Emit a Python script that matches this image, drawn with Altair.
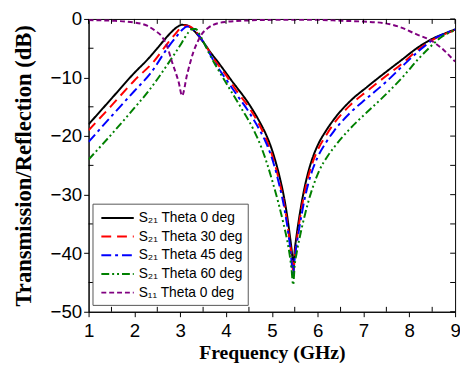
import altair as alt
import pandas as pd

# ---- data ----
s21_t0_x = [1.0, 1.5, 2.0, 2.29, 2.5, 2.64, 2.8, 2.93, 3.04, 3.15, 3.3, 3.47, 3.68, 3.79, 4.11, 4.54, 4.75, 4.86, 4.97,
            5.08, 5.18, 5.27, 5.33, 5.39, 5.44, 5.47, 5.5, 5.54, 5.58, 5.61, 5.66, 5.72, 5.8, 5.9, 6.0, 6.19, 6.36, 6.7,
            7.08, 7.5, 7.8, 8.22, 8.5, 8.8, 9.0]
s21_t0_y = [-18.0, -13.6, -9.2, -6.9, -5.0, -3.7, -2.3, -1.4, -1.0, -1.1, -2.0, -3.6, -5.9, -7.0, -10.4, -15.0, -17.8, -19.5, -21.6,
            -24.3, -27.3, -30.6, -33.4, -36.8, -40.0, -42.5, -39.5, -37.0, -34.8, -33.3, -31.0, -28.6, -26.0, -23.5, -21.6, -19.0, -17.1, -14.1,
            -11.6, -9.0, -7.2, -4.7, -3.4, -2.4, -1.8]

s21_t30_x = [1.0, 1.5, 2.0, 2.43, 2.72, 2.9, 3.0, 3.11, 3.22, 3.35, 3.47, 3.75, 4.0, 4.25, 4.5, 4.75, 4.86, 4.97,
             5.08, 5.18, 5.27, 5.33, 5.39, 5.44, 5.47, 5.5, 5.54, 5.58, 5.61, 5.66, 5.72, 5.8, 5.9, 6.0, 6.19, 6.36, 6.7,
             7.08, 7.5, 7.8, 8.22, 8.55, 8.8, 9.0]
s21_t30_y = [-19.0, -14.8, -10.5, -7.2, -4.2, -2.5, -1.6, -1.1, -1.3, -2.2, -3.5, -7.0, -9.6, -12.5, -15.1, -18.4, -20.2, -22.4,
             -25.2, -28.3, -31.6, -34.4, -37.9, -41.0, -43.5, -40.5, -38.0, -35.8, -34.2, -31.9, -29.4, -26.8, -24.3, -22.4, -19.8, -17.8, -14.8,
             -12.3, -9.7, -7.9, -5.1, -3.4, -2.5, -1.9]

s21_t45_x = [1.0, 1.5, 2.0, 2.36, 2.72, 2.93, 3.05, 3.15, 3.25, 3.35, 3.47, 3.75, 4.0, 4.25, 4.5, 4.75, 4.86, 4.97,
             5.08, 5.18, 5.27, 5.33, 5.39, 5.43, 5.46, 5.49, 5.54, 5.58, 5.61, 5.66, 5.72, 5.8, 5.9, 6.0, 6.19, 6.36, 6.7,
             7.08, 7.5, 7.87, 8.22, 8.58, 8.8, 9.0]
s21_t45_y = [-21.0, -16.6, -12.3, -9.2, -5.0, -2.9, -1.8, -1.3, -1.5, -2.3, -3.5, -7.4, -10.3, -13.1, -15.9, -19.2, -20.9, -23.0,
             -25.8, -28.9, -32.2, -35.0, -38.4, -41.3, -44.0, -41.5, -38.6, -36.6, -35.2, -33.0, -30.6, -28.0, -25.5, -23.6, -21.0, -19.1, -16.1,
             -13.5, -10.7, -7.9, -5.4, -3.2, -2.4, -1.8]

s21_t60_x = [1.0, 1.5, 2.0, 2.29, 2.5, 2.72, 2.9, 3.0, 3.1, 3.18, 3.27, 3.34, 3.42, 3.5, 3.68, 4.0, 4.33, 4.6, 4.76, 4.9,
             5.03, 5.15, 5.25, 5.33, 5.39, 5.43, 5.465, 5.5, 5.54, 5.6, 5.65, 5.72, 5.79, 5.9, 6.04, 6.22, 6.36, 6.7,
             7.08, 7.5, 7.87, 8.19, 8.44, 8.68, 8.94, 9.0]
s21_t60_y = [-24.0, -19.7, -15.2, -12.5, -10.3, -7.8, -5.7, -4.5, -3.2, -2.3, -1.7, -1.7, -2.6, -3.8, -6.6, -10.9, -15.2, -18.9, -21.7, -24.8,
             -28.2, -31.6, -34.8, -37.6, -40.3, -42.7, -45.4, -42.0, -40.0, -37.6, -35.8, -33.5, -31.4, -28.6, -25.8, -23.4, -21.9, -18.8,
             -15.9, -12.8, -9.8, -6.9, -4.9, -3.2, -2.1, -1.9]

s11_t0_x = [1.0, 1.5, 2.0, 2.29, 2.45, 2.61, 2.72, 2.82, 2.97, 3.04, 3.15, 3.29, 3.38, 3.47, 3.6, 3.72, 4.0, 4.5, 5.0, 5.5,
            6.0, 6.5, 7.0, 7.44, 7.8, 8.15, 8.5, 8.75, 9.0]
s11_t0_y = [-0.2, -0.3, -0.6, -1.2, -2.0, -3.1, -4.8, -7.3, -10.9, -13.1, -9.5, -5.6, -3.9, -2.6, -1.6, -1.0, -0.5, -0.25, -0.15, -0.12,
            -0.15, -0.3, -0.45, -0.7, -1.4, -2.6, -3.8, -5.3, -7.3]

series_names = ["S₂₁ Theta 0 deg", "S₂₁ Theta 30 deg", "S₂₁ Theta 45 deg", "S₂₁ Theta 60 deg", "S₁₁ Theta 0 deg"]
series_colors = ["#000000", "#ff0000", "#0000ff", "#008000", "#800080"]
series_dashes = [[1, 0], [10, 6], [10, 4, 3, 4], [8, 3, 2, 3, 2, 3], [5, 3]]

x_major = [1, 2, 3, 4, 5, 6, 7, 8, 9]
x_minor = [1.5, 2.5, 3.5, 4.5, 5.5, 6.5, 7.5, 8.5]
y_major = [0, -10, -20, -30, -40, -50]
y_minor = [-5, -15, -25, -35, -45]

W, H = 373, 298

rows = []
for name, xs, ys in zip(series_names,
                        [s21_t0_x, s21_t30_x, s21_t45_x, s21_t60_x, s11_t0_x],
                        [s21_t0_y, s21_t30_y, s21_t45_y, s21_t60_y, s11_t0_y]):
    for i, (xv, yv) in enumerate(zip(xs, ys)):
        rows.append({"series": name, "f": xv, "db": yv, "i": i})
df = pd.DataFrame(rows)

xscale = alt.Scale(domain=[1, 9], nice=False, zero=False)
yscale = alt.Scale(domain=[-50, 0], nice=False, zero=False)
x_title = "Frequency (GHz)"
y_title = "Transmission/Reflection (dB)"
x_axis = alt.Axis(values=x_major, tickSize=5, labelPadding=5, titlePadding=3, format="d", labelFlush=False)
y_axis = alt.Axis(values=y_major, tickSize=5, labelPadding=2, titlePadding=15, format="d", titleFontSize=23,
                  labelFlush=False)

lines = alt.Chart(df).mark_line(strokeWidth=2, interpolate="monotone", clip=True).encode(
    x=alt.X("f:Q", scale=xscale, title=x_title, axis=x_axis),
    y=alt.Y("db:Q", scale=yscale, title=y_title, axis=y_axis),
    color=alt.Color("series:N", scale=alt.Scale(domain=series_names, range=series_colors), title=None),
    strokeDash=alt.StrokeDash("series:N", scale=alt.Scale(domain=series_names, range=series_dashes), title=None),
    order="i:Q",
)

tick_style = dict(color="black", strokeWidth=1)

top_ticks = alt.Chart(pd.DataFrame({"f": x_major + x_minor})).mark_rule(**tick_style).encode(
    x=alt.X("f:Q", scale=xscale, title=x_title, axis=x_axis), y=alt.value(0), y2=alt.value(5))
bottom_minor = alt.Chart(pd.DataFrame({"f": x_minor})).mark_rule(**tick_style).encode(
    x=alt.X("f:Q", scale=xscale, title=x_title, axis=x_axis), y=alt.value(H), y2=alt.value(H - 5))
left_minor = alt.Chart(pd.DataFrame({"db": y_minor})).mark_rule(**tick_style).encode(
    y=alt.Y("db:Q", scale=yscale, title=y_title, axis=y_axis), x=alt.value(0), x2=alt.value(5))
right_ticks = alt.Chart(pd.DataFrame({"db": y_major + y_minor})).mark_rule(**tick_style).encode(
    y=alt.Y("db:Q", scale=yscale, title=y_title, axis=y_axis), x=alt.value(W), x2=alt.value(W - 5))

chart = alt.layer(lines, top_ticks, bottom_minor, left_minor, right_ticks).properties(
    width=W, height=H,
    autosize=alt.AutoSizeParams(type="none"),
    padding={"left": 82, "top": 8, "right": 5, "bottom": 50},
).configure_view(
    stroke="black", strokeWidth=1
).configure_axis(
    grid=False, domainColor="black", tickColor="black",
    labelFont="Liberation Sans", labelFontSize=19, labelColor="black",
    titleFont="Liberation Serif", titleFontSize=20, titleFontWeight="bold", titleColor="black",
).configure_legend(
    orient="none", legendX=4, legendY=188,
    fillColor="white", strokeColor="#555555", padding=5,
    symbolType="M-2,0H2", symbolSize=272, symbolStrokeWidth=2, symbolOffset=11,
    labelFont="Liberation Sans", labelFontSize=14, labelColor="black",
    rowPadding=2, labelOffset=12,
)

chart.save("out.html", embed_options={"renderer": "svg", "actions": False})
